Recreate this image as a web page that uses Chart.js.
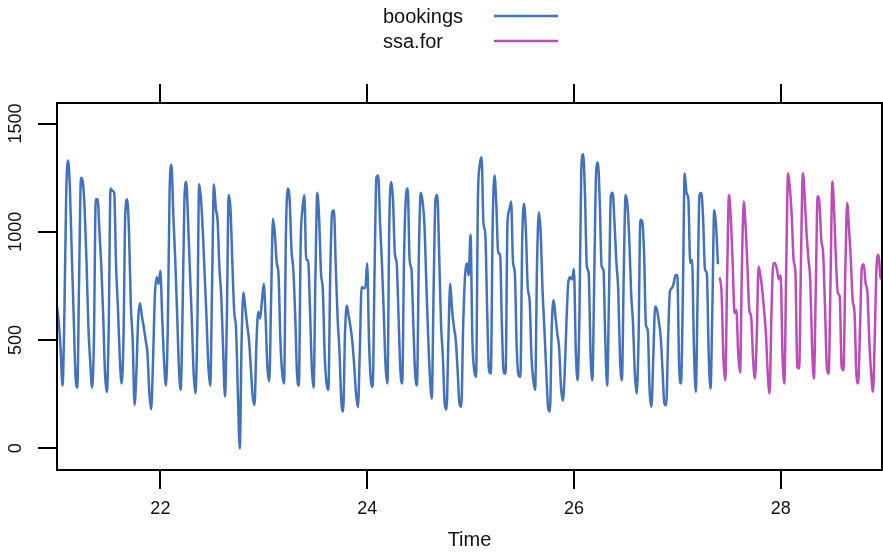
<!DOCTYPE html>
<html>
<head>
<meta charset="utf-8">
<script src="https://cdn.jsdelivr.net/npm/chart.js@4.4.1/dist/chart.umd.min.js"></script>
<style>
  html, body { margin: 0; padding: 0; background: #fff; }
  canvas { display: block; }
</style>
</head>
<body>
<canvas id="c" width="883" height="554"></canvas>
<script>
// time series: starts at week 21, 56 samples per week (8 per day)
const start = 21;
const perWeek = 56;

// observed bookings, one row per day
const bookings = [
  655, 580, 450, 290, 620, 1180, 1330, 1200,
  900, 620, 340, 280, 800, 1250, 1230, 1100,
  860, 560, 400, 280, 500, 1150, 1150, 1000,
  840, 620, 350, 260, 550, 1200, 1190, 1180,
  840, 650, 420, 300, 500, 1090, 1150, 1000,
  660, 500, 200, 350, 600, 670, 610, 560,
  500, 440, 260, 180, 400, 700, 790, 760,
  820, 600, 400, 290, 550, 1190, 1310, 1080,
  880, 640, 380, 270, 620, 1140, 1230, 1050,
  820, 600, 350, 255, 550, 1220, 1150, 1000,
  800, 600, 380, 290, 750, 1220, 1110, 1050,
  830, 700, 450, 240, 600, 1170, 1100, 850,
  630, 550, 250, 0, 500, 720, 650, 570,
  500, 370, 240, 200, 480, 630, 600, 680,
  760, 600, 370, 310, 700, 1060, 990, 860,
  800, 500, 346, 300, 990, 1200, 1150, 920,
  825, 620, 346, 290, 950, 1110, 1170, 870,
  870, 655, 377, 280, 800, 1180, 1060, 810,
  730, 430, 300, 270, 800, 1090, 1100, 840,
  600, 450, 220, 170, 530, 660, 610, 560,
  490, 380, 250, 190, 440, 745, 740, 740,
  855, 500, 315, 284, 809, 1250, 1260, 1040,
  855, 624, 377, 300, 1040, 1230, 1150, 900,
  855, 610, 360, 300, 886, 1160, 1200, 870,
  825, 578, 346, 290, 886, 1180, 1140, 1040,
  778, 531, 330, 230, 732, 1150, 1170, 900,
  578, 423, 207, 179, 500, 760, 640, 560,
  500, 361, 207, 192, 562, 793, 855, 800,
  986, 500, 361, 330, 1150, 1310, 1345, 1040,
  990, 640, 361, 346, 1040, 1260, 1120, 900,
  900, 562, 346, 346, 1040, 1100, 1140, 860,
  809, 469, 338, 330, 963, 1130, 1000, 740,
  685, 423, 315, 270, 840, 1090, 994, 732,
  554, 361, 192, 170, 562, 685, 608, 531,
  462, 284, 220, 346, 593, 770, 790, 780,
  830, 454, 315, 620, 1290, 1360, 1170, 840,
  810, 440, 315, 780, 1270, 1320, 1140, 840,
  825, 500, 290, 700, 1164, 1180, 1040, 860,
  732, 408, 315, 809, 1170, 1125, 963, 716,
  578, 346, 253, 500, 1056, 1048, 900, 570,
  546, 269, 192, 423, 655, 639, 585, 516,
  361, 207, 199, 500, 724, 740, 760, 800,
  800, 380, 300, 700, 1270, 1180, 1150, 855,
  870, 469, 261, 700, 1170, 1180, 1056, 825,
  809, 438, 276, 655, 1100, 1030, 850
];

// ssa forecast, continues right after the last booking
const ssaFor = [
  790,
  716, 408, 315, 800, 1170, 1060, 855, 624,
  639, 438, 350, 840, 1140, 1025, 840, 639,
  608, 423, 322, 500, 840, 800, 732, 639,
  531, 346, 253, 624, 855, 855, 825, 780,
  800, 423, 300, 840, 1270, 1200, 1071, 870,
  809, 377, 369, 870, 1270, 1164, 994, 878,
  778, 469, 322, 732, 1164, 1133, 963, 900,
  655, 377, 346, 778, 1233, 1087, 855, 716,
  701, 377, 361, 809, 1133, 1017, 870, 685,
  624, 346, 300, 562, 840, 850, 763, 716,
  500, 346, 261, 531, 855, 894, 793, 780
];

const xTicks = [22, 24, 26, 28];
const yTicks = [0, 500, 1000, 1500];

const toPoints = (vals, offset) => vals.map((v, i) => ({ x: start + (offset + i) / perWeek, y: v }));

const FONT = "'Liberation Sans', Arial, sans-serif";
const BLACK = "#000";

// white background + box round the panel
const framePlugin = {
  id: "frame",
  beforeDraw(chart) {
    const ctx = chart.ctx;
    ctx.save();
    ctx.fillStyle = "#fff";
    ctx.fillRect(0, 0, chart.width, chart.height);
    ctx.restore();
  },
  afterDraw(chart) {
    const { ctx, chartArea: a } = chart;
    ctx.save();
    ctx.strokeStyle = BLACK;
    ctx.lineWidth = 2;
    ctx.strokeRect(a.left, a.top, a.right - a.left, a.bottom - a.top);

    // rotated y labels (lattice style)
    const ys = chart.scales.y;
    ctx.fillStyle = "#111";
    ctx.font = "18px " + FONT;
    ctx.textAlign = "center";
    ctx.textBaseline = "middle";
    yTicks.forEach(v => {
      ctx.save();
      ctx.translate(16, ys.getPixelForValue(v));
      ctx.rotate(-Math.PI / 2);
      ctx.fillText(String(v), 0, 0);
      ctx.restore();
    });

    // key on top: text then line
    ctx.font = "20px " + FONT;
    ctx.textAlign = "left";
    chart.data.datasets.forEach((ds, i) => {
      const y = 17 + i * 25;
      ctx.fillStyle = "#111";
      ctx.fillText(ds.label, 383, y);
      ctx.strokeStyle = ds.borderColor;
      ctx.lineWidth = 2.4;
      ctx.beginPath();
      ctx.moveTo(494, y - 1);
      ctx.lineTo(558, y - 1);
      ctx.stroke();
    });
    ctx.restore();
  }
};

const axisGrid = { drawOnChartArea: false, drawTicks: true, tickLength: 19, color: BLACK, lineWidth: 2 };
const axisBorder = { display: true, color: BLACK, width: 2 };
const lineStyle = { borderWidth: 2.5, pointRadius: 0, cubicInterpolationMode: "monotone", borderJoinStyle: "round" };

new Chart(document.getElementById("c"), {
  type: "line",
  data: {
    datasets: [
      { label: "bookings", data: toPoints(bookings, 0), borderColor: "#4472ba", ...lineStyle },
      { label: "ssa.for", data: toPoints(ssaFor, bookings.length), borderColor: "#bc4cb8", ...lineStyle }
    ]
  },
  options: {
    responsive: false,
    animation: false,
    devicePixelRatio: 1,
    layout: { padding: { left: 0, right: 1, top: 0, bottom: 0 } },
    plugins: { legend: { display: false }, tooltip: { enabled: false } },
    scales: {
      x: {
        type: "linear", position: "bottom", min: 21, max: 28.98,
        afterBuildTicks: s => { s.ticks = xTicks.map(v => ({ value: v })); },
        afterFit: s => { s.height = 84; },
        ticks: { color: "#111", font: { family: FONT, size: 18 }, padding: 9, maxRotation: 0 },
        grid: axisGrid, border: axisBorder,
        title: { display: true, text: "Time", color: "#111", font: { family: FONT, size: 20 }, padding: { top: 0, bottom: 2 } }
      },
      xTop: {
        type: "linear", position: "top", min: 21, max: 28.98,
        afterBuildTicks: s => { s.ticks = xTicks.map(v => ({ value: v })); },
        afterFit: s => { s.height = 103; },
        ticks: { display: false },
        grid: axisGrid, border: axisBorder
      },
      y: {
        position: "left", min: -100, max: 1595,
        afterBuildTicks: s => { s.ticks = yTicks.map(v => ({ value: v })); },
        afterFit: s => { s.width = 57; },
        ticks: { display: false },
        grid: axisGrid, border: axisBorder
      }
    }
  },
  plugins: [framePlugin]
});
</script>
</body>
</html>
